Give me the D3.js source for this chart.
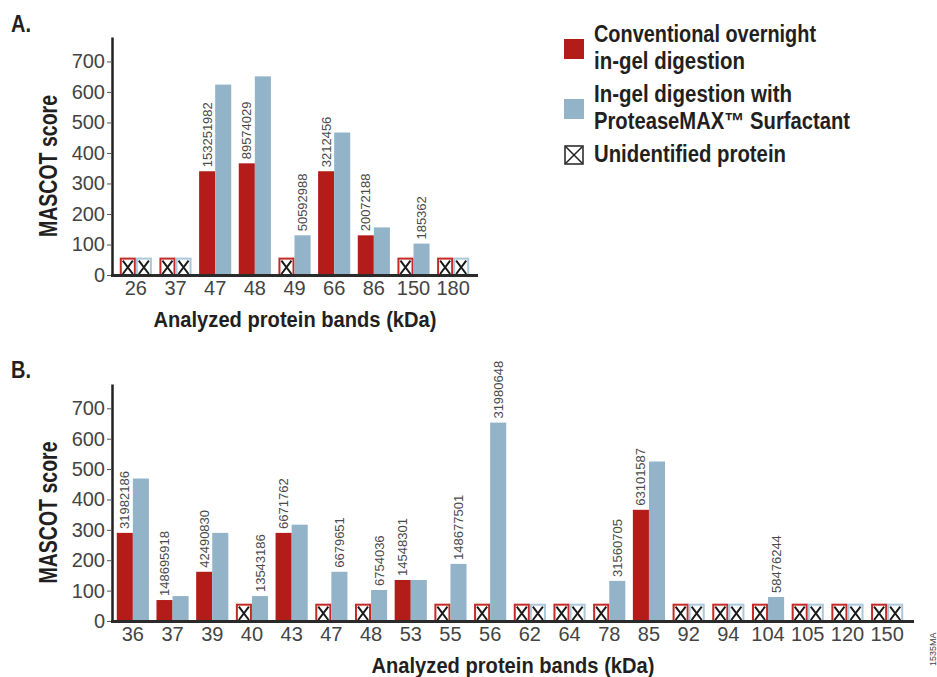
<!DOCTYPE html>
<html>
<head>
<meta charset="utf-8">
<script src="https://cdn.jsdelivr.net/npm/d3@7"></script>
<style>
  body { margin: 0; background: #fff; }
  svg { display: block; }
  .cond { font-family: "Liberation Sans", Arial, sans-serif; font-weight: bold; fill: #231f20; }
  .tick text { font-family: "Liberation Sans", Arial, sans-serif; font-size: 20px; fill: #444; }
  .bar-label { font-family: "Liberation Sans", Arial, sans-serif; font-size: 13px; fill: #4a4a4a; }
</style>
</head>
<body>
<svg id="chart" width="937" height="677"></svg>
<script>
// null = unidentified protein (drawn as crossed box)
const bandsA = ['26', '37', '47', '48', '49', '66', '86', '150', '180'];
const conventionalA = [null, null, 340, 366, null, 340, 130, null, null];
const proteaseA = [null, null, 624, 651, 130, 467, 156, 103, null];
const labelsA = ['', '', '153251982', '89574029', '50592988', '3212456', '20072188', '185362', ''];

const bandsB = ['36', '37', '39', '40', '43', '47', '48', '53', '55', '56',
                '62', '64', '78', '85', '92', '94', '104', '105', '120', '150'];
const conventionalB = [290, 69, 162, null, 290, null, null, 135, null, null,
                       null, null, null, 366, null, null, null, null, null, null];
const proteaseB = [469, 82, 290, 82, 317, 162, 102, 135, 188, 653,
                   null, null, 132, 525, null, null, 79, null, null, null];
const labelsB = ['31982186', '148695918', '42490830', '13543186', '6671762', '6679651', '6754036', '14548301', '148677501', '31980648',
                 '', '', '31560705', '63101587', '', '', '58476244', '', '', ''];

const yTicks = [0, 100, 200, 300, 400, 500, 600, 700];
const UNID_SCORE = 57; // height of the "unidentified" placeholder boxes

const RED = '#b31c18';
const BLUE = '#93b4c8';
const RED_EDGE = '#c42a25';
const BLUE_EDGE = '#a9c8d9';

const svg = d3.select('#chart');

// bold text squeezed to a width, stands in for Helvetica Condensed Bold
function condText(parent, str, size, width) {
    return parent.append('text')
        .attr('class', 'cond')
        .attr('font-size', size + 'px')
        .attr('textLength', width)
        .attr('lengthAdjust', 'spacingAndGlyphs')
        .text(str);
}

function drawPanel(opts) {
    const { letter, letterY, bands, conv, prot, labels, base, top, x0, x1, axisEnd, titleX } = opts;
    const left = 112;

    const y = d3.scaleLinear().domain([0, 780]).range([base, top]);
    const x = d3.scaleBand().domain(bands).range([x0, x1]).paddingInner(0.19).paddingOuter(0.095);
    const sub = d3.scaleBand().domain(['conv', 'prot']).range([0, x.bandwidth()]);

    // panel letter
    condText(svg, letter, 23, 20)
        .attr('x', 11)
        .attr('y', letterY);

    const rows = bands.map((b, i) => ({ band: b, conv: conv[i], prot: prot[i], label: labels[i] }));

    const groups = svg.append('g').selectAll('g')
        .data(rows)
        .join('g')
        .attr('transform', d => `translate(${x(d.band)},0)`);

    ['conv', 'prot'].forEach(key => {
        const fill = key === 'conv' ? RED : BLUE;
        const edge = key === 'conv' ? RED_EDGE : BLUE_EDGE;
        const bw = sub.bandwidth();

        // identified: solid bar
        groups.filter(d => d[key] !== null)
            .append('rect')
            .attr('x', sub(key))
            .attr('y', d => y(d[key]))
            .attr('width', bw)
            .attr('height', d => base - y(d[key]))
            .attr('fill', fill);

        // unidentified: outlined box with a cross
        const unid = groups.filter(d => d[key] === null).append('g');
        const by = y(UNID_SCORE);
        unid.append('rect')
            .attr('x', sub(key) + 1)
            .attr('y', by + 1)
            .attr('width', bw - 2)
            .attr('height', base - by - 1)
            .attr('fill', '#fff')
            .attr('stroke', edge)
            .attr('stroke-width', 2);
        unid.append('path')
            .attr('d', `M${sub(key) + 3},${by + 3}L${sub(key) + bw - 3},${base - 1}` +
                       `M${sub(key) + bw - 3},${by + 3}L${sub(key) + 3},${base - 1}`)
            .attr('stroke', '#1a1a1a')
            .attr('stroke-width', 2)
            .attr('fill', 'none');
    });

    // accession numbers above the first identified bar of each band
    groups.filter(d => d.label !== '')
        .append('text')
        .attr('class', 'bar-label')
        .attr('transform', d => {
            const key = d.conv !== null ? 'conv' : 'prot';
            const cx = sub(key) + sub.bandwidth() / 2;
            return `translate(${cx},${y(d[key]) - 4}) rotate(-90)`;
        })
        .attr('dy', '0.35em')
        .text(d => d.label);

    // y axis
    const yAxis = svg.append('g')
        .attr('transform', `translate(${left},0)`)
        .call(d3.axisLeft(y).tickValues(yTicks).tickSize(5).tickSizeOuter(0).tickPadding(2));
    yAxis.select('.domain').attr('stroke', '#222').attr('stroke-width', 2.5);
    yAxis.selectAll('.tick line').attr('stroke', '#555').attr('stroke-width', 1);

    // x axis
    const xAxis = svg.append('g')
        .attr('transform', `translate(0,${base})`)
        .call(d3.axisBottom(x).tickSize(0).tickPadding(6));
    xAxis.select('.domain').remove();
    svg.append('line')
        .attr('x1', left - 1)
        .attr('x2', axisEnd)
        .attr('y1', base + 0.5)
        .attr('y2', base + 0.5)
        .attr('stroke', '#2a2a2a')
        .attr('stroke-width', 3);

    // axis titles
    condText(svg, 'MASCOT score', 25.5, 142)
        .attr('text-anchor', 'middle')
        .attr('transform', `translate(57,${(base + top) / 2 + 10}) rotate(-90)`);

    condText(svg, 'Analyzed protein bands (kDa)', 22.5, 283)
        .attr('text-anchor', 'middle')
        .attr('x', titleX)
        .attr('y', base + 52);
}

drawPanel({
    letter: 'A.', letterY: 32,
    bands: bandsA, conv: conventionalA, prot: proteaseA, labels: labelsA,
    base: 275, top: 37, x0: 116, x1: 473, axisEnd: 478, titleX: 295
});

drawPanel({
    letter: 'B.', letterY: 378,
    bands: bandsB, conv: conventionalB, prot: proteaseB, labels: labelsB,
    base: 621, top: 384, x0: 113, x1: 907, axisEnd: 914, titleX: 513
});

// legend
const legend = svg.append('g').attr('transform', 'translate(564,0)');
const legendItems = [
    { kind: 'conv', lines: ['Conventional overnight', 'in-gel digestion'], widths: [222, 151], y: 39 },
    { kind: 'prot', lines: ['In-gel digestion with', 'ProteaseMAX\u2122 Surfactant'], widths: [198, 256], y: 99 },
    { kind: 'unid', lines: ['Unidentified protein'], widths: [192], y: 146 }
];

legendItems.forEach(item => {
    if (item.kind === 'unid') {
        legend.append('rect')
            .attr('x', 1).attr('y', item.y)
            .attr('width', 18).attr('height', 18)
            .attr('fill', '#fff').attr('stroke', '#231f20').attr('stroke-width', 1.5);
        legend.append('path')
            .attr('d', `M2,${item.y + 1}L18,${item.y + 17}M18,${item.y + 1}L2,${item.y + 17}`)
            .attr('stroke', '#231f20').attr('stroke-width', 1.5);
    } else {
        legend.append('rect')
            .attr('x', 0).attr('y', item.y)
            .attr('width', 20).attr('height', 20)
            .attr('fill', item.kind === 'conv' ? RED : BLUE);
    }
    const y0 = item.kind === 'unid' ? item.y + 16 : item.y + 3;
    item.lines.forEach((line, i) => {
        condText(legend, line, 23, item.widths[i])
            .attr('x', 30)
            .attr('y', y0 + i * 27);
    });
});

// figure code at the right edge
svg.append('text')
    .attr('transform', 'translate(936,666) rotate(-90)')
    .attr('font-family', 'Liberation Sans, Arial, sans-serif')
    .attr('font-size', '9px')
    .attr('fill', '#444')
    .text('1535MA');
</script>
</body>
</html>
